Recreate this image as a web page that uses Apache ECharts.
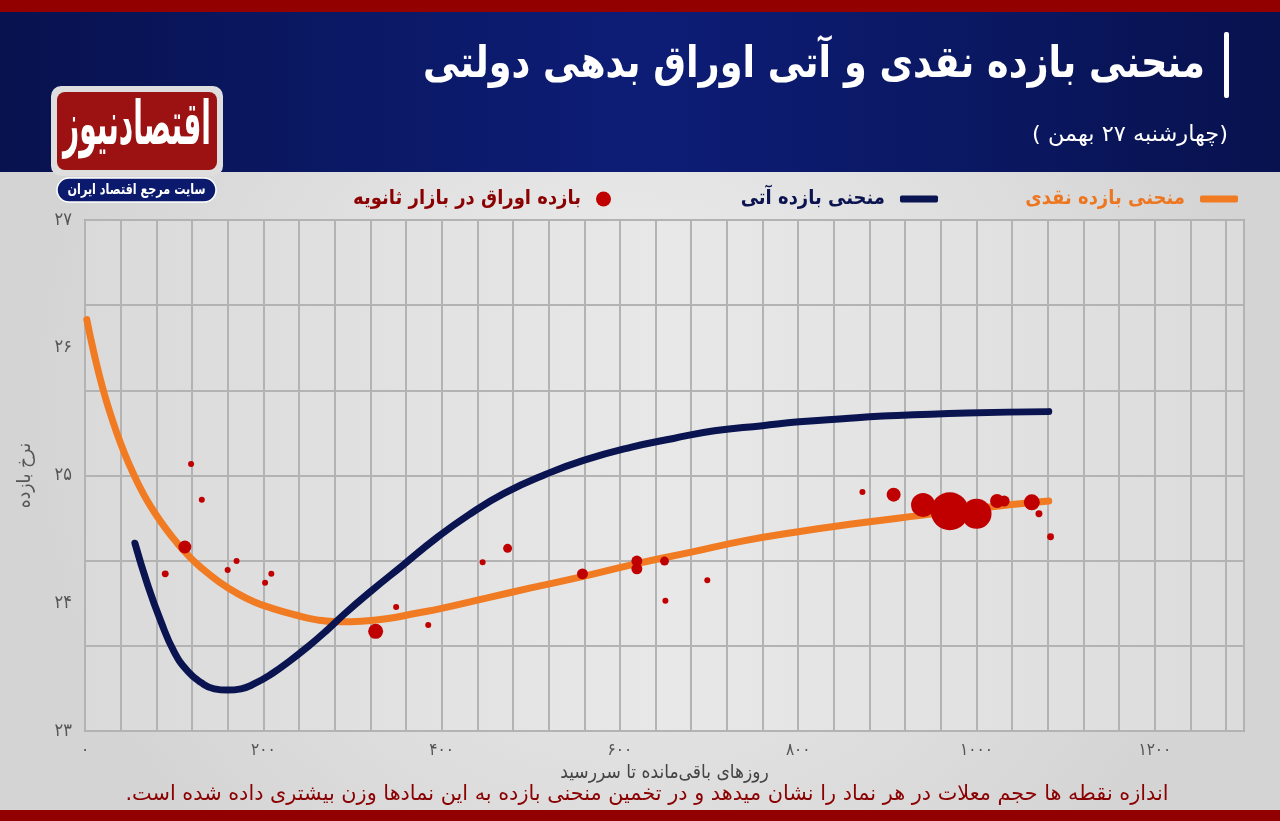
<!DOCTYPE html>
<html><head><meta charset="utf-8">
<script src="https://cdn.jsdelivr.net/npm/echarts@6/dist/echarts.min.js"></script>
<style>html,body{margin:0;padding:0;background:#e2e2e2}#c{width:1280px;height:821px}</style>
</head><body><div id="c" dir="rtl"></div>
<script>
// ---- data ----
const xTicks = [0, 200, 400, 600, 800, 1000, 1200];
const yTicks = [23, 24, 25, 26, 27];
const spotName = 'منحنی بازده نقدی';
const fwdName = 'منحنی بازده آتی';
const bondName = 'بازده اوراق در بازار ثانویه';
const spotDays  = [2, 10, 20, 30, 40, 50, 60, 70, 80, 90, 100, 115, 130, 150, 170, 190, 210, 235, 260, 285, 310, 340, 370, 400, 450, 500, 559, 619, 680, 740, 800, 860, 940, 1010, 1081];
const spotRates = [26.22, 25.96, 25.68, 25.45, 25.25, 25.08, 24.93, 24.80, 24.69, 24.59, 24.50, 24.38, 24.28, 24.17, 24.08, 24.01, 23.96, 23.91, 23.87, 23.855, 23.86, 23.88, 23.92, 23.96, 24.04, 24.12, 24.21, 24.31, 24.40, 24.49, 24.56, 24.62, 24.69, 24.75, 24.80];
const fwdDays  = [56, 70, 85, 100, 115, 130, 145, 160, 175, 190, 210, 230, 250, 270, 290, 320, 357, 394, 430, 470, 517, 560, 612, 660, 706, 760, 801, 850, 895, 989, 1081];
const fwdRates = [24.47, 24.15, 23.86, 23.62, 23.47, 23.38, 23.33, 23.32, 23.33, 23.37, 23.45, 23.55, 23.66, 23.78, 23.91, 24.09, 24.30, 24.51, 24.69, 24.86, 25.01, 25.12, 25.22, 25.29, 25.35, 25.39, 25.42, 25.445, 25.465, 25.49, 25.50];
const bondDays   = [90, 112, 119, 131, 160, 170, 202, 209, 326, 349, 385, 446, 474, 558, 619, 619, 650, 651, 698, 872, 907, 940, 970, 1000, 1023, 1031, 1062, 1070, 1083];
const bondRates  = [24.23, 24.44, 25.09, 24.81, 24.26, 24.33, 24.16, 24.23, 23.78, 23.97, 23.83, 24.32, 24.43, 24.23, 24.33, 24.27, 24.33, 24.02, 24.18, 24.87, 24.85, 24.77, 24.72, 24.70, 24.80, 24.80, 24.79, 24.70, 24.52];
const bondVolume = [12, 42, 9, 9, 9, 9, 9, 9, 56, 9, 9, 9, 20, 30, 30, 30, 20, 9, 9, 9, 49, 144, 361, 225, 49, 30, 64, 12, 12];
const titleText = 'منحنی بازده نقدی و آتی اوراق بدهی دولتی';
const subtitleText = '(چهارشنبه ۲۷ بهمن )';
const logoText = 'اقتصادنیوز';
const logoSub = 'سایت مرجع اقتصاد ایران';
const xName = 'روزهای باقی‌مانده تا سررسید';
const yName = 'نرخ بازده';
const noteText = 'اندازه نقطه ها حجم معلات در هر نماد را نشان میدهد و در تخمین منحنی بازده به این نمادها وزن بیشتری داده شده است.';

// ---- helpers ----
const FA = "'DejaVu Sans Condensed', 'DejaVu Sans', sans-serif";
const toFa = n => String(n).replace(/\d/g, d => '۰۱۲۳۴۵۶۷۸۹'[d]);
const mctx = document.createElement('canvas').getContext('2d');
function fit(text, weight, size, target) {
  mctx.font = weight + ' ' + size + 'px ' + FA;
  return target / mctx.measureText(text).width;
}
const spotData = spotDays.map((d, i) => [d, spotRates[i]]);
const fwdData = fwdDays.map((d, i) => [d, fwdRates[i]]);
const bondData = bondDays.map((d, i) => [d, bondRates[i], bondVolume[i]]);

function txt(x, y, text, weight, size, color, align, targetW, z) {
  const s = targetW ? fit(text, weight, size, targetW) : 1;
  return { type: 'text', x: x, y: y, scaleX: s, z: z || 10,
    style: { x: 0, y: 0, text: text, fill: color, fontFamily: FA, fontWeight: weight, fontSize: size, align: align, verticalAlign: 'middle' } };
}

const chart = echarts.init(document.getElementById('c'), null, { renderer: 'canvas' });
chart.setOption({
  animation: false,
  graphic: { elements: [
    { type: 'rect', z: -100, shape: { x: 0, y: 0, width: 1280, height: 821 },
      style: { fill: new echarts.graphic.RadialGradient(0.5, 0.5, 0.75, [{ offset: 0, color: '#efefef' }, { offset: 1, color: '#d4d4d4' }]) } },
    { type: 'rect', z: -90, shape: { x: 0, y: 0, width: 1280, height: 12 }, style: { fill: '#930000' } },
    { type: 'rect', z: -90, shape: { x: 0, y: 12, width: 1280, height: 160 },
      style: { fill: new echarts.graphic.LinearGradient(0, 0, 1, 0, [{ offset: 0, color: '#08124f' }, { offset: 0.5, color: '#0d1d76' }, { offset: 1, color: '#08124f' }]) } },
    { type: 'rect', z: -90, shape: { x: 0, y: 810, width: 1280, height: 11 }, style: { fill: '#930000' } },
    // logo
    { type: 'rect', z: 5, shape: { x: 51, y: 86, width: 172, height: 90, r: 10 }, style: { fill: '#dedede' } },
    { type: 'rect', z: 6, shape: { x: 57, y: 92, width: 160, height: 78, r: 8 }, style: { fill: '#9c1111' } },
    txt(137, 128, logoText, 'bold', 60, '#ffffff', 'center', 148, 7),
    { type: 'rect', z: 6, shape: { x: 57, y: 178, width: 159, height: 24, r: 12 }, style: { fill: '#0c1a6e', stroke: '#ffffff', lineWidth: 1.5 } },
    txt(136.5, 190, logoSub, 'bold', 15, '#ffffff', 'center', 138, 7),
    // title
    { type: 'rect', z: 5, shape: { x: 1224, y: 32, width: 5, height: 66, r: 2 }, style: { fill: '#ffffff' } },
    txt(1205, 66, titleText, 'bold', 44, '#ffffff', 'right', 782),
    txt(1228, 135, subtitleText, 'normal', 22, '#ffffff', 'right', 196),
    txt(647, 795, noteText, 'normal', 21, '#8b0000', 'center', 1043)
  ]},
  legend: [
    { data: [spotName], right: 37, top: 184, align: 'right', icon: 'roundRect', itemWidth: 38, itemHeight: 7,
      textStyle: { color: '#ee7620', fontSize: 20, fontWeight: 'bold', fontFamily: FA, padding: [0, 10, 0, 0] } },
    { data: [fwdName], right: 337, top: 184, align: 'right', icon: 'roundRect', itemWidth: 38, itemHeight: 7,
      textStyle: { color: '#0b1450', fontSize: 20, fontWeight: 'bold', fontFamily: FA, padding: [0, 10, 0, 0] } },
    { data: [bondName], right: 664, top: 184, align: 'right', icon: 'circle', itemWidth: 15, itemHeight: 15,
      textStyle: { color: '#8b0000', fontSize: 20, fontWeight: 'bold', fontFamily: FA, padding: [0, 10, 0, 0] } }
  ],
  grid: { left: 85, right: 36, top: 220, bottom: 90, show: true, borderColor: '#a2a2a2', borderWidth: 2,
    backgroundColor: new echarts.graphic.LinearGradient(0, 0, 1, 0, [{ offset: 0, color: '#dadada' }, { offset: 0.5, color: '#e8e8e8' }, { offset: 1, color: '#dcdcdc' }]) },
  xAxis: { type: 'value', min: 0, max: 1300, interval: 40,
    axisLine: { show: false }, axisTick: { show: false },
    axisLabel: { formatter: v => xTicks.includes(v) ? toFa(v) : '', color: '#555', fontSize: 17, margin: 11, fontFamily: FA },
    splitLine: { show: true, lineStyle: { color: '#b3b3b3', width: 2 } },
    name: xName, nameLocation: 'middle', nameGap: 30,
    nameTextStyle: { color: '#444', fontSize: 19, fontFamily: FA } },
  yAxis: [
    { type: 'value', min: 23, max: 27, interval: 1,
      axisLine: { show: false }, axisTick: { show: false }, splitLine: { show: false },
      axisLabel: { formatter: v => yTicks.includes(v) ? toFa(v) : '', color: '#555', fontSize: 18, margin: 13, fontFamily: FA },
      name: yName, nameLocation: 'middle', nameRotate: 90, nameGap: 50,
      nameTextStyle: { color: '#555', fontSize: 19, fontFamily: FA } },
    { type: 'value', min: 0, max: 6, interval: 1, position: 'left',
      axisLine: { show: false }, axisTick: { show: false }, axisLabel: { show: false },
      splitLine: { show: true, lineStyle: { color: '#b3b3b3', width: 2 } } }
  ],
  series: [
    { name: spotName, type: 'line', data: spotData, smooth: 0.5, showSymbol: false, z: 3,
      lineStyle: { color: '#f07b22', width: 7, cap: 'round' }, itemStyle: { color: '#f07b22' } },
    { name: fwdName, type: 'line', data: fwdData, smooth: 0.5, showSymbol: false, z: 4,
      lineStyle: { color: '#0a1450', width: 7, cap: 'round' }, itemStyle: { color: '#0a1450' } },
    { name: bondName, type: 'scatter', data: bondData, z: 5,
      symbolSize: v => Math.sqrt(v[2]) * 2, itemStyle: { color: '#c00000', opacity: 1 } }
  ]
});
</script></body></html>
